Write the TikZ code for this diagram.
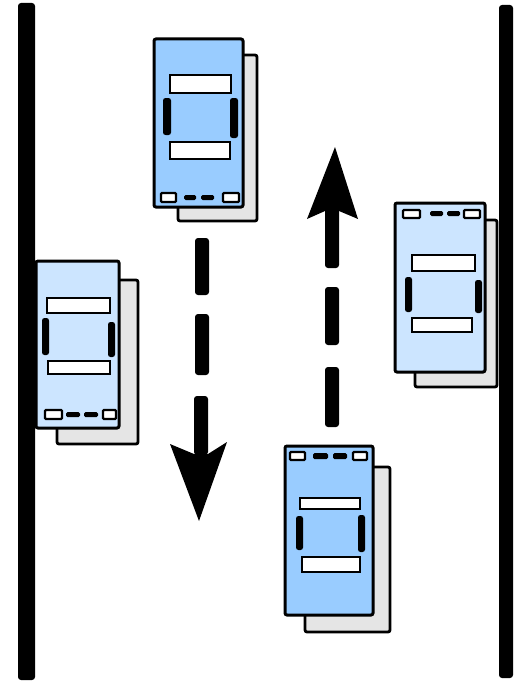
\documentclass[tikz,border=0pt]{standalone}
\begin{document}
\begin{tikzpicture}[x=1pt,y=-1pt,
  road/.style={fill=black, rounded corners=3pt},
  body/.style={draw=black, line width=3pt, rounded corners=2pt},
  shade/.style={draw=black, line width=2.8pt, fill=gray!20, rounded corners=2pt},
  window/.style={draw=black, line width=2.6pt, fill=white},
  wheel/.style={fill=black, rounded corners=2.5pt},
  lamp/.style={draw=black, line width=2.2pt, fill=white, rounded corners=1pt},
  bar/.style={fill=black, rounded corners=1.5pt},
  dashpiece/.style={fill=black, rounded corners=3pt},
  head/.style={fill=black, line join=round}]
\definecolor{carblue}{HTML}{99CCFF}
\definecolor{carpale}{HTML}{CCE5FF}
\useasboundingbox (0,0) rectangle (515,685);

% road edges
\fill[road] (18,3) rectangle (35,680);
\fill[road] (499,5) rectangle (513,678);

% car heading down, upper middle
\draw[shade] (178,55) rectangle (257,221);
\draw[body, fill=carblue] (154,39) rectangle (243,207);
\draw[window] (170,75) rectangle (231,93);
\draw[window] (170,142) rectangle (230,159);
\fill[wheel] (163,98) rectangle (171,135);
\fill[wheel] (230,98) rectangle (238,138);
\draw[lamp] (161,193) rectangle (176,202);
\fill[bar] (184,195) rectangle (196,200);
\fill[bar] (201,195) rectangle (214,200);
\draw[lamp] (223,193) rectangle (239,202);

% car heading down, left lane
\draw[shade] (57,280) rectangle (138,444);
\draw[body, fill=carpale] (36,261) rectangle (119,428);
\draw[window] (47,298) rectangle (110,313);
\draw[window] (48,361) rectangle (110,374);
\fill[wheel] (42,318) rectangle (49,355);
\fill[wheel] (108,322) rectangle (115,357);
\draw[lamp] (45,410) rectangle (62,419);
\fill[bar] (66,412) rectangle (80,417);
\fill[bar] (84,412) rectangle (98,417);
\draw[lamp] (103,410) rectangle (116,419);

% car heading up, right lane
\draw[shade] (415,220) rectangle (497,387);
\draw[body, fill=carpale] (395,203) rectangle (485,372);
\draw[window] (412,255) rectangle (475,271);
\draw[window] (412,318) rectangle (472,332);
\fill[wheel] (405,277) rectangle (412,312);
\fill[wheel] (475,280) rectangle (482,313);
\draw[lamp] (403,210) rectangle (420,218);
\fill[bar] (430,211) rectangle (443,216);
\fill[bar] (447,211) rectangle (460,216);
\draw[lamp] (464,210) rectangle (480,218);

% car heading up, lower middle
\draw[shade] (305,467) rectangle (390,632);
\draw[body, fill=carblue] (285,446) rectangle (373,615);
\draw[window] (300,498) rectangle (360,509);
\draw[window] (302,557) rectangle (360,572);
\fill[wheel] (296,516) rectangle (303,550);
\fill[wheel] (358,515) rectangle (365,552);
\draw[lamp] (290,452) rectangle (305,460);
\fill[bar] (313,453) rectangle (328,459);
\fill[bar] (333,453) rectangle (347,459);
\draw[lamp] (353,452) rectangle (367,460);

% dashed arrow pointing down
\fill[dashpiece] (195,238) rectangle (209,295);
\fill[dashpiece] (195,314) rectangle (209,375);
\fill[dashpiece] (194,396) rectangle (208,455);
\fill[head] (170,444) -- (194,454) -- (208,454) -- (227,442) -- (199,521) -- cycle;

% dashed arrow pointing up
\fill[head] (307,219) -- (325,211) -- (339,211) -- (358,219) -- (335,147) -- cycle;
\fill[dashpiece] (325,208) rectangle (339,268);
\fill[dashpiece] (325,287) rectangle (339,345);
\fill[dashpiece] (325,367) rectangle (339,427);
\end{tikzpicture}
\end{document}
